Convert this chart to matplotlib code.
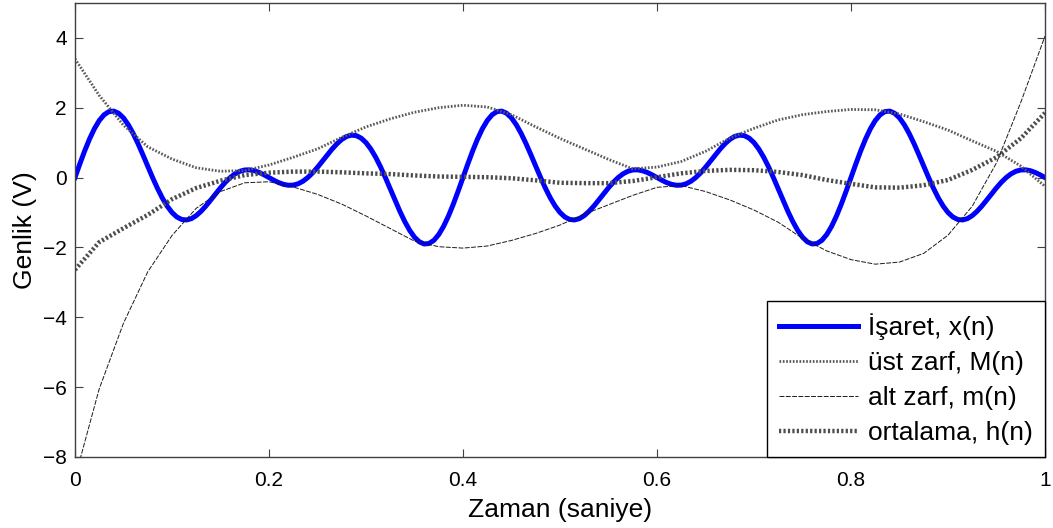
import numpy as np
import matplotlib
matplotlib.use("Agg")
import matplotlib.pyplot as plt

plt.rcParams['font.family'] = ['Liberation Sans', 'DejaVu Sans']

# signal x(n), sampled every 0.005 s from 0 to 1
signal = [
    0.000, 0.390, 0.763, 1.103, 1.397, 1.631, 1.797, 1.888, 1.902, 1.840,
    1.707, 1.510, 1.260, 0.970, 0.653, 0.324, 0.000, -0.306, -0.582, -0.816,
    -1.000, -1.129, -1.200, -1.214, -1.176, -1.090, -0.965, -0.813, -0.642, -0.465,
    -0.293, -0.135, 0.000, 0.106, 0.179, 0.217, 0.221, 0.195, 0.145, 0.077,
    0.000, -0.077, -0.145, -0.195, -0.221, -0.217, -0.179, -0.106, 0.000, 0.135,
    0.293, 0.465, 0.642, 0.813, 0.965, 1.090, 1.176, 1.214, 1.200, 1.129,
    1.000, 0.816, 0.582, 0.306, 0.000, -0.324, -0.653, -0.970, -1.260, -1.510,
    -1.707, -1.840, -1.902, -1.888, -1.797, -1.631, -1.397, -1.103, -0.763, -0.390,
    0.000, 0.390, 0.763, 1.103, 1.397, 1.631, 1.797, 1.888, 1.902, 1.840,
    1.707, 1.510, 1.260, 0.970, 0.653, 0.324, 0.000, -0.306, -0.582, -0.816,
    -1.000, -1.129, -1.200, -1.214, -1.176, -1.090, -0.965, -0.813, -0.642, -0.465,
    -0.293, -0.135, 0.000, 0.106, 0.179, 0.217, 0.221, 0.195, 0.145, 0.077,
    0.000, -0.077, -0.145, -0.195, -0.221, -0.217, -0.179, -0.106, 0.000, 0.135,
    0.293, 0.465, 0.642, 0.813, 0.965, 1.090, 1.176, 1.214, 1.200, 1.129,
    1.000, 0.816, 0.582, 0.306, 0.000, -0.324, -0.653, -0.970, -1.260, -1.510,
    -1.707, -1.840, -1.902, -1.888, -1.797, -1.631, -1.397, -1.103, -0.763, -0.390,
    0.000, 0.390, 0.763, 1.103, 1.397, 1.631, 1.797, 1.888, 1.902, 1.840,
    1.707, 1.510, 1.260, 0.970, 0.653, 0.324, 0.000, -0.306, -0.582, -0.816,
    -1.000, -1.129, -1.200, -1.214, -1.176, -1.090, -0.965, -0.813, -0.642, -0.465,
    -0.293, -0.135, 0.000, 0.106, 0.179, 0.217, 0.221, 0.195, 0.145, 0.077,
    0.000,
]

# envelopes and mean, read every 0.025 s
upper = [3.40, 2.35, 1.50, 0.88, 0.53, 0.28, 0.18, 0.20, 0.36, 0.58,
         0.82, 1.15, 1.45, 1.68, 1.87, 2.00, 2.07, 2.02, 1.80, 1.45,
         1.12, 0.82, 0.52, 0.25, 0.30, 0.46, 0.75, 1.13, 1.41, 1.65,
         1.80, 1.89, 1.95, 1.94, 1.82, 1.60, 1.36, 1.05, 0.75, 0.33,
         -0.25]
lower = [-8.60, -6.05, -4.17, -2.70, -1.66, -0.88, -0.40, -0.15, -0.12, -0.27,
         -0.48, -0.76, -1.10, -1.46, -1.82, -1.98, -2.02, -1.96, -1.80, -1.60,
         -1.36, -1.05, -0.78, -0.51, -0.28, -0.23, -0.40, -0.64, -0.93, -1.28,
         -1.74, -2.10, -2.35, -2.48, -2.42, -2.17, -1.65, -0.82, 0.42, 2.15,
         4.05]
mean = [-2.64, -1.85, -1.45, -1.07, -0.62, -0.30, -0.09, 0.07, 0.14, 0.17,
        0.17, 0.15, 0.12, 0.10, 0.06, 0.03, 0.02, 0.01, -0.02, -0.08,
        -0.15, -0.16, -0.16, -0.10, 0.01, 0.12, 0.19, 0.22, 0.21, 0.16,
        0.07, -0.07, -0.18, -0.28, -0.29, -0.22, -0.07, 0.22, 0.58, 1.12,
        1.85]

t_sig = np.linspace(0, 1, len(signal))
t_env = np.linspace(0, 1, len(upper))

xticks = [0, 0.2, 0.4, 0.6, 0.8, 1]
xticklabels = ['0', '0.2', '0.4', '0.6', '0.8', '1']
yticks = [-8, -6, -4, -2, 0, 2, 4]

fig = plt.figure(figsize=(10.53, 5.28), dpi=100)
ax = fig.add_axes([0.0712, 0.1345, 0.9212, 0.860])

ax.plot(t_sig, signal, color='#0000ff', lw=3.6, label='İşaret, x(n)')
ax.plot(t_env, upper, color='0.35', lw=2.0, dashes=(0.6, 0.6), label='üst zarf, M(n)')
ax.plot(t_env, lower, color='0.1', lw=0.7, dashes=(5, 1.5), label='alt zarf, m(n)')
ax.plot(t_env, mean, color='0.3', lw=3.2, dashes=(0.5, 0.5), label='ortalama, h(n)')

ax.set_xlim(0, 1)
ax.set_ylim(-8, 5)
ax.set_xticks(xticks)
ax.set_xticklabels(xticklabels)
ax.set_yticks(yticks)
ax.tick_params(direction='in', length=6, width=0.8, top=True, right=True,
               labelsize=15, colors='0.25', labelcolor='black')
ax.tick_params(axis='x', pad=10)
ax.tick_params(axis='y', pad=6)
for s in ax.spines.values():
    s.set_color('0.25')
    s.set_linewidth(1.0)

ax.set_xlabel('Zaman (saniye)', fontsize=19, labelpad=6)
ax.set_ylabel('Genlik (V)', fontsize=19, labelpad=4)

leg = ax.legend(loc='lower right', borderaxespad=0, fontsize=19, fancybox=False,
                edgecolor='black', handlelength=3.0, handletextpad=0.4,
                labelspacing=0.42, borderpad=0.45, framealpha=1)
leg.get_frame().set_linewidth(1.0)

fig.savefig('out.png', dpi=100)
